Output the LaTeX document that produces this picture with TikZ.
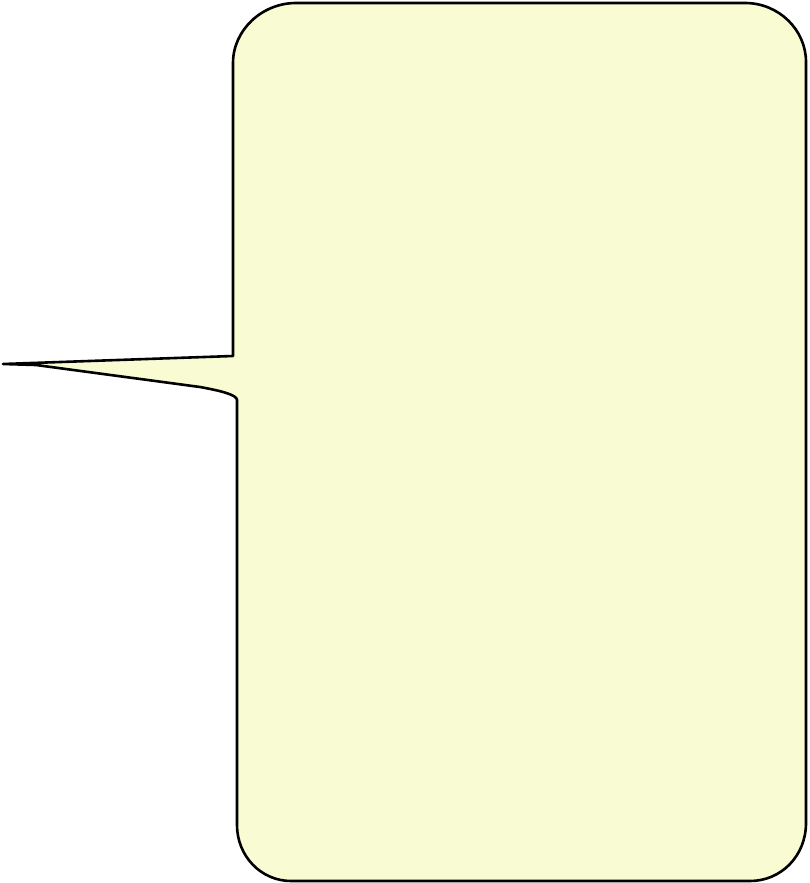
\documentclass[tikz,border=0pt]{standalone}
\definecolor{bubblefill}{RGB}{249,252,210}
\begin{document}
\begin{tikzpicture}[x=1pt,y=-1pt,
  bubble/.style={draw=black,fill=bubblefill,line width=2.6pt,line join=round}]
\useasboundingbox (0,0) rectangle (809,883);
\draw[bubble]
  (233,356) -- (233,63)
  .. controls (233,30) and (262,3) .. (296,3)
  -- (745,3)
  .. controls (779,3) and (806,30) .. (806,62)
  -- (806,823)
  .. controls (806,856) and (781,881) .. (750,881)
  -- (291,881)
  .. controls (261,881) and (237,856) .. (237,825)
  -- (237,400)
  .. controls (237,395) and (222,391) .. (200,387)
  -- (36,365) -- (3,364) -- cycle;
\end{tikzpicture}
\end{document}
